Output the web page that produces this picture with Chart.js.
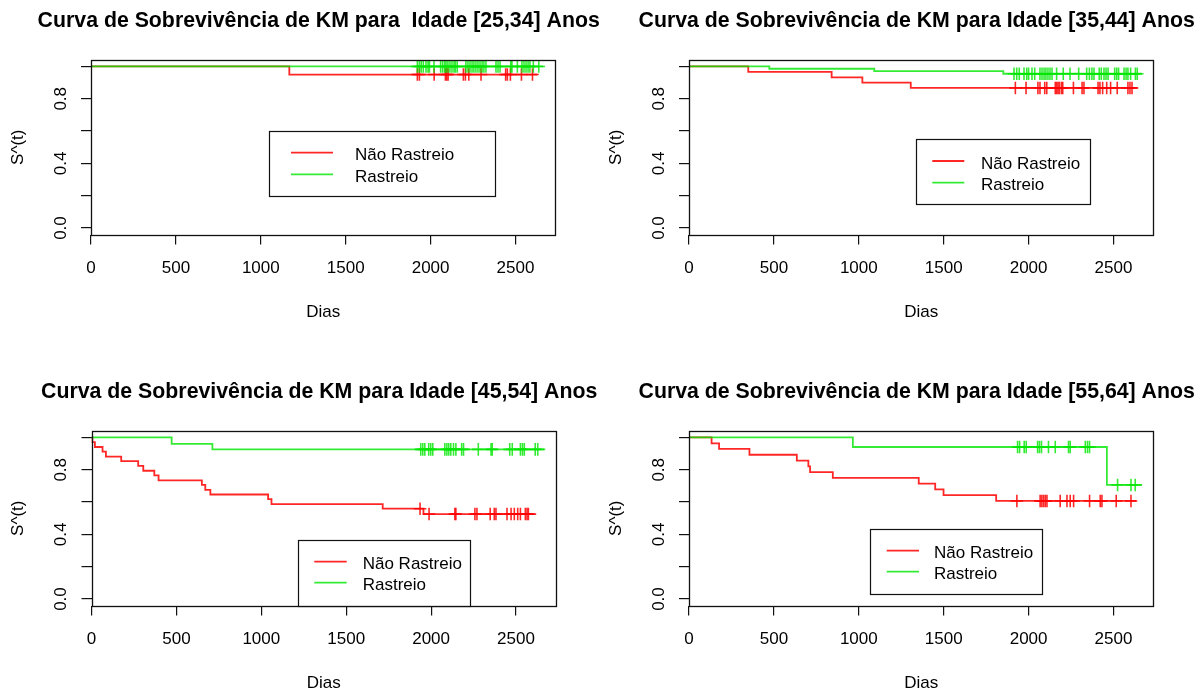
<!DOCTYPE html>
<html>
<head>
<meta charset="utf-8">
<title>Curvas de Sobrevivência de KM por Idade</title>
<script src="https://cdn.jsdelivr.net/npm/chart.js@4/dist/chart.umd.min.js"></script>
<style>
  html, body { margin: 0; padding: 0; background: #fff; }
  body { width: 1204px; height: 692px; position: relative; overflow: hidden; }
  canvas { position: absolute; }
</style>
</head>
<body>
<canvas id="km1" width="600" height="330" style="left:0;top:0"></canvas>
<canvas id="km2" width="600" height="330" style="left:598px;top:0"></canvas>
<canvas id="km3" width="600" height="330" style="left:0;top:370px"></canvas>
<canvas id="km4" width="600" height="330" style="left:598px;top:370px"></canvas>
<script>
// grupos e rótulos
const grupos = ['Não Rastreio', 'Rastreio'];
const faixas = ['[25,34]', '[35,44]', '[45,54]', '[55,64]'];
const ticksX = [0, 500, 1000, 1500, 2000, 2500];
const ticksY = [0, 0.2, 0.4, 0.6, 0.8, 1];
const rotulosY = [0, 0.4, 0.8];

// Idade [25,34]
const t1Nao = [0, 1168, 2628];
const s1Nao = [1, 0.95, 0.95];
const c1Nao = [1922, 1934, 2021, 2087, 2095, 2103, 2193, 2205, 2225, 2297, 2442, 2452, 2470, 2535, 2600];
const t1Ras = [0, 2664];
const s1Ras = [1, 1];
const c1Ras = [1922, 1934, 1945, 1957, 1973, 1985, 1993, 2020, 2059, 2071, 2083, 2091, 2102, 2114, 2126, 2138,
  2146, 2157, 2208, 2220, 2232, 2244, 2255, 2267, 2279, 2291, 2303, 2314, 2326, 2385, 2397, 2409, 2472, 2479,
  2511, 2538, 2550, 2562, 2574, 2585, 2605, 2637];

// Idade [35,44]
const t2Nao = [0, 349, 840, 1021, 1306, 2642];
const s2Nao = [1, 0.967, 0.933, 0.9, 0.867, 0.867];
const c2Nao = [1922, 1985, 2055, 2067, 2095, 2107, 2157, 2165, 2173, 2181, 2193, 2201, 2264, 2315, 2326, 2409,
  2420, 2436, 2460, 2483, 2522, 2585, 2597, 2609];
const t2Ras = [0, 473, 1091, 1851, 2666];
const s2Ras = [1, 0.986, 0.971, 0.955, 0.955];
const c2Ras = [1914, 1930, 1945, 1973, 1989, 2000, 2020, 2036, 2067, 2079, 2091, 2102, 2114, 2126, 2138, 2165,
  2204, 2244, 2295, 2342, 2358, 2373, 2385, 2416, 2428, 2444, 2456, 2468, 2507, 2519, 2530, 2562, 2574, 2585,
  2601, 2629, 2640];

// Idade [45,54]
const t3Nao = [0, 5, 20, 65, 85, 175, 275, 305, 370, 395, 650, 670, 700, 1040, 1060, 1715, 1955, 2619];
const s3Nao = [1, 0.971, 0.941, 0.912, 0.882, 0.853, 0.824, 0.794, 0.765, 0.735, 0.706, 0.676, 0.647, 0.618,
  0.588, 0.559, 0.526, 0.526];
const c3Nao = [1935, 1988, 2140, 2146, 2258, 2270, 2348, 2372, 2382, 2447, 2471, 2490, 2510, 2526, 2555, 2565, 2573];
const t3Ras = [0, 472, 712, 2672];
const s3Ras = [1, 0.96, 0.926, 0.926];
const c3Ras = [1939, 1951, 1963, 1986, 1998, 2010, 2081, 2093, 2104, 2116, 2132, 2146, 2180, 2191, 2278, 2353,
  2360, 2463, 2478, 2526, 2538, 2549, 2613, 2628];

// Idade [55,64]
const t4Nao = [0, 133, 177, 356, 635, 703, 713, 847, 1353, 1450, 1499, 1809, 2634];
const s4Nao = [1, 0.964, 0.929, 0.893, 0.857, 0.821, 0.786, 0.75, 0.714, 0.679, 0.643, 0.607, 0.607];
const c4Nao = [1931, 2068, 2078, 2088, 2098, 2108, 2186, 2226, 2245, 2265, 2359, 2422, 2432, 2516, 2603];
const t4Ras = [0, 965, 2461, 2668];
const s4Ras = [1, 0.941, 0.706, 0.706];
const c4Ras = [1935, 1947, 1974, 1986, 2053, 2064, 2076, 2117, 2157, 2235, 2245, 2334, 2347, 2359, 2524, 2603, 2628];

const corNao = 'rgba(255,0,0,0.85)';
const corRas = 'rgba(0,230,0,0.8)';
const familia = 'Arial, "Liberation Sans", sans-serif';
const fonteEixo = { family: familia, size: 17 };
const ALTURA = 330;

// área do gráfico e legenda de cada painel, em px do canvas
const paineis = [
  { id: 'km1', titulo: 'Curva de Sobrevivência de KM para  Idade ' + faixas[0] + ' Anos',
    area: { l: 91, t: 60, b: 234.5 },
    legenda: { x: 269, y: 131, w: 226, h: 65, linha: [291, 333], texto: 355, linhas: [152.7, 174.3] },
    nao: [t1Nao, s1Nao, c1Nao], ras: [t1Ras, s1Ras, c1Ras] },
  { id: 'km2', titulo: 'Curva de Sobrevivência de KM para Idade ' + faixas[1] + ' Anos',
    area: { l: 91, t: 60, b: 234.5 },
    legenda: { x: 317.7, y: 139.3, w: 173.6, h: 64.7, linha: [334.3, 366.3], texto: 383, linhas: [161, 182.7] },
    nao: [t2Nao, s2Nao, c2Nao], ras: [t2Ras, s2Ras, c2Ras] },
  { id: 'km3', titulo: 'Curva de Sobrevivência de KM para Idade ' + faixas[2] + ' Anos',
    area: { l: 91.5, t: 61, b: 235.5 },
    legenda: { x: 298.3, y: 170, w: 171.7, h: 65.5, linha: [314.3, 346.7], texto: 362.7, linhas: [191.7, 212.7] },
    nao: [t3Nao, s3Nao, c3Nao], ras: [t3Ras, s3Ras, c3Ras] },
  { id: 'km4', titulo: 'Curva de Sobrevivência de KM para Idade ' + faixas[3] + ' Anos',
    area: { l: 91, t: 61, b: 235.5 },
    legenda: { x: 272, y: 159, w: 172.3, h: 65, linha: [288.7, 321], texto: 336, linhas: [180.7, 201.7] },
    nao: [t4Nao, s4Nao, c4Nao], ras: [t4Ras, s4Ras, c4Ras] }
];

// valor da curva em degrau no tempo t
function nivelEm(tempos, sobrev, t) {
  let s = sobrev[0];
  for (let i = 0; i < tempos.length; i++) {
    if (tempos[i] <= t) s = sobrev[i];
  }
  return s;
}

function curva(nome, cor, [tempos, sobrev, censuras], ordem) {
  return [
    {
      label: nome,
      data: tempos.map((t, i) => ({ x: t, y: sobrev[i] })),
      borderColor: cor,
      borderWidth: 1.8,
      stepped: 'before',
      pointRadius: 0,
      fill: false,
      order: ordem
    },
    {
      label: nome + ' (censura)',
      data: censuras.map(t => ({ x: t, y: nivelEm(tempos, sobrev, t) })),
      showLine: false,
      pointStyle: 'cross',
      pointRadius: 6.3,
      pointBorderWidth: 1.6,
      borderColor: cor,
      order: ordem
    }
  ];
}

// caixa, título e legenda no estilo do plot do R
const moldura = {
  id: 'moldura',
  afterDraw(chart, args, opts) {
    const { ctx, chartArea: a } = chart;
    ctx.save();
    ctx.strokeStyle = '#111';
    ctx.lineWidth = 1.3;
    ctx.strokeRect(Math.round(a.left) + 0.5, Math.round(a.top) + 0.5,
      Math.round(a.right - a.left), Math.round(a.bottom - a.top));

    ctx.fillStyle = '#000';
    ctx.font = 'bold 21.3px ' + familia;
    ctx.textAlign = 'center';
    ctx.textBaseline = 'alphabetic';
    ctx.fillText(opts.titulo, (a.left + a.right) / 2 - 4.5, a.top - 33.3);

    const lg = opts.legenda;
    ctx.fillStyle = '#fff';
    ctx.fillRect(lg.x, lg.y, lg.w, lg.h);
    ctx.lineWidth = 1.2;
    ctx.strokeRect(Math.round(lg.x) + 0.5, Math.round(lg.y) + 0.5, Math.round(lg.w), Math.round(lg.h));
    ctx.font = '17px ' + familia;
    ctx.textAlign = 'left';
    [corNao, corRas].forEach((cor, i) => {
      const y = lg.linhas[i];
      ctx.strokeStyle = cor;
      ctx.lineWidth = 1.8;
      ctx.beginPath();
      ctx.moveTo(lg.linha[0], y);
      ctx.lineTo(lg.linha[1], y);
      ctx.stroke();
      ctx.fillStyle = '#000';
      ctx.fillText(grupos[i], lg.texto, y + 7.5);
    });
    ctx.restore();
  }
};

paineis.forEach(p => {
  const xMax = 2735;
  const direita = p.area.l + xMax * 0.1698;
  new Chart(document.getElementById(p.id), {
    type: 'line',
    data: {
      datasets: [
        ...curva(grupos[1], corRas, p.ras, 0),
        ...curva(grupos[0], corNao, p.nao, 1)
      ]
    },
    options: {
      responsive: false,
      animation: false,
      events: [],
      layout: { padding: { left: 0, top: p.area.t, right: 600 - direita, bottom: 0 } },
      plugins: {
        legend: { display: false },
        tooltip: { enabled: false },
        moldura: { titulo: p.titulo, legenda: p.legenda }
      },
      scales: {
        x: {
          type: 'linear',
          min: 0,
          max: xMax,
          afterBuildTicks: s => { s.ticks = ticksX.map(v => ({ value: v })); },
          afterFit: s => { s.height = ALTURA - p.area.b; },
          border: { display: false },
          grid: { drawOnChartArea: false, drawTicks: true, tickLength: 10, color: '#111', lineWidth: 1.2 },
          ticks: {
            autoSkip: false, maxRotation: 0,
            color: '#000', font: fonteEixo, padding: 14,
            callback: v => String(v)
          },
          title: {
            display: true, text: 'Dias', color: '#000', font: fonteEixo,
            padding: { top: 0, bottom: ALTURA - 10.2 - (p.area.b + 77.5) }
          }
        },
        y: {
          type: 'linear',
          min: -0.04,
          max: 1.04,
          afterBuildTicks: s => { s.ticks = ticksY.map(v => ({ value: v })); },
          afterFit: s => { s.width = p.area.l; },
          border: { display: false },
          grid: { drawOnChartArea: false, drawTicks: true, tickLength: 10, color: '#111', lineWidth: 1.2 },
          ticks: {
            autoSkip: false,
            minRotation: 90, maxRotation: 90, crossAlign: 'center', padding: 8,
            color: '#000', font: fonteEixo,
            callback: v => rotulosY.some(r => Math.abs(r - v) < 1e-6) ? v.toFixed(1) : ''
          },
          title: {
            display: true, text: 'S^(t)', color: '#000', font: fonteEixo,
            padding: { top: 8.3, bottom: 0 }
          }
        }
      }
    },
    plugins: [moldura]
  });
});
</script>
</body>
</html>
